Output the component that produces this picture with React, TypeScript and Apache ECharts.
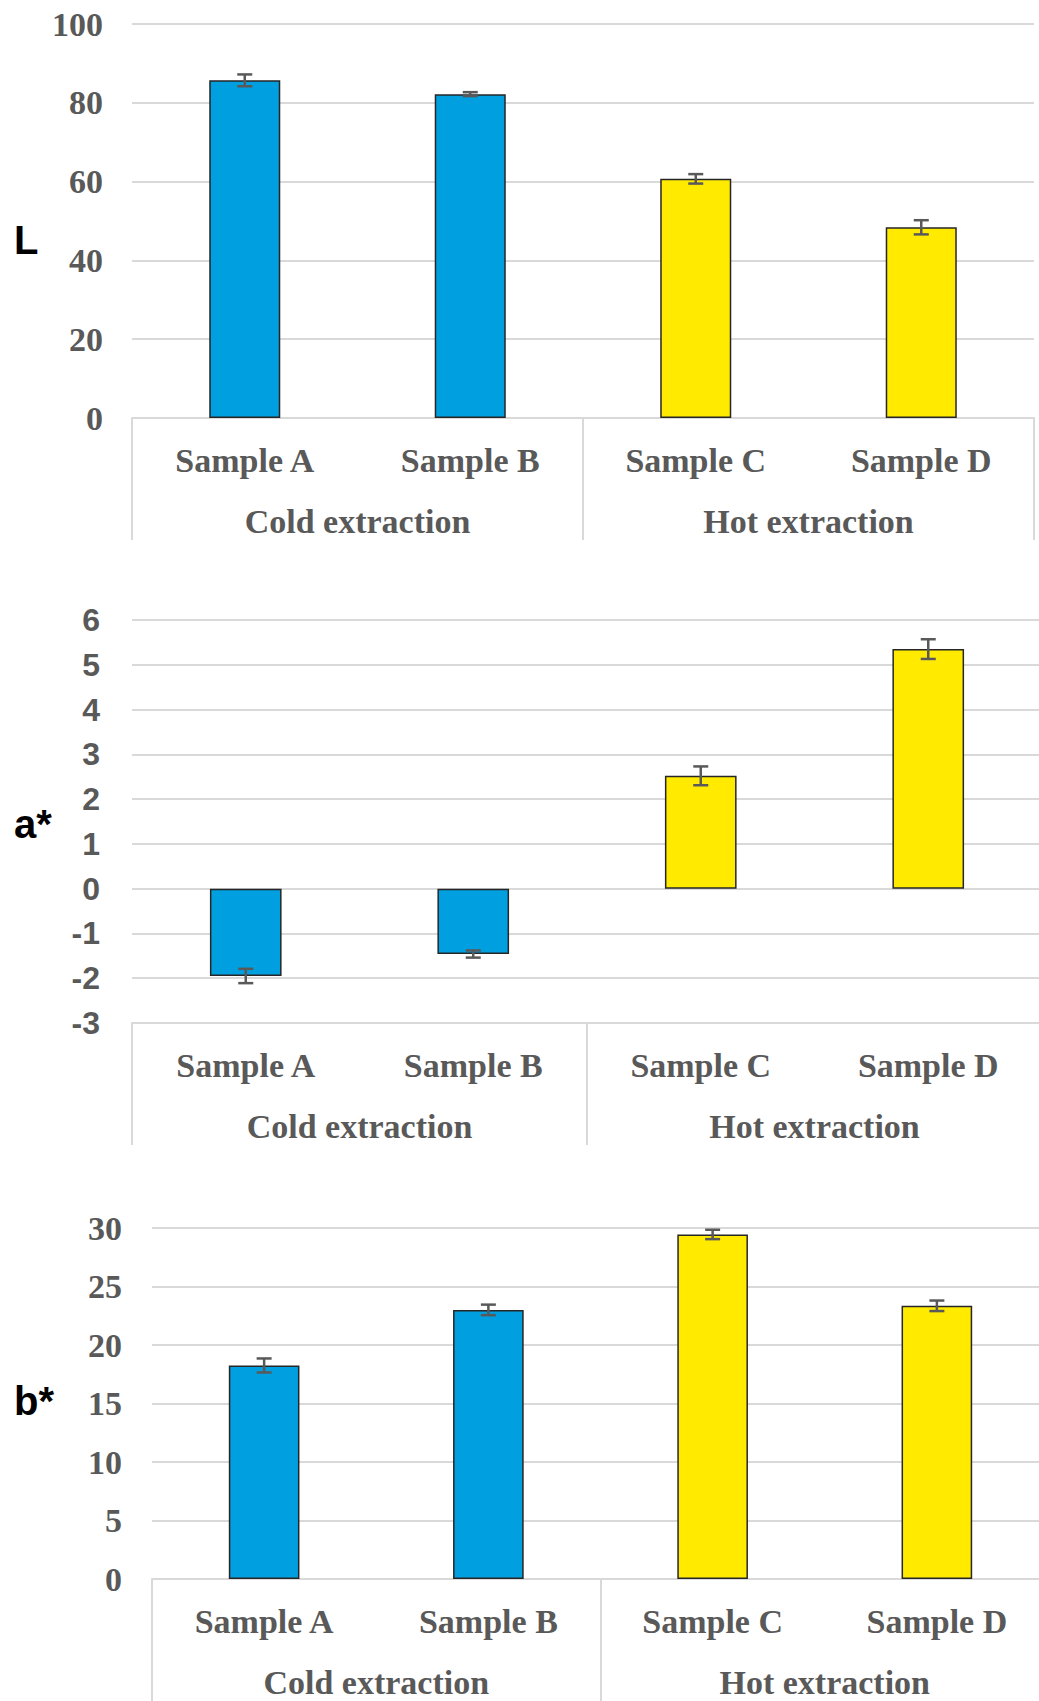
import React, { useEffect, useRef } from "react";
import * as echarts from "echarts";

// Categories and groups
const samples = ["Sample A", "Sample B", "Sample C", "Sample D"];
const groups = ["Cold extraction", "Hot extraction"];
const barColors = ["#009FDF", "#009FDF", "#FFEA00", "#FFEA00"];

// L (lightness) means and standard deviations
const lValues = [85.7, 82.2, 60.7, 48.4];
const lErrors = [1.5, 0.5, 1.2, 1.8];

// a* means and standard deviations
const aValues = [-1.95, -1.46, 2.52, 5.35];
const aErrors = [0.16, 0.08, 0.21, 0.22];

// b* means and standard deviations
const bValues = [18.25, 23.0, 29.45, 23.35];
const bErrors = [0.6, 0.45, 0.4, 0.45];

// Value-axis ranges per panel
const lRange = { min: 0, max: 100, interval: 20 };
const aRange = { min: -3, max: 6, interval: 1 };
const bRange = { min: 0, max: 30, interval: 5 };

const SERIF = "'Liberation Serif', 'Times New Roman', serif";
const SANS = "'Liberation Sans', Arial, sans-serif";
const GREY = "#595959";
const LINE = "#D9D9D9";
const LABEL_SIZE = 34;

const panels = [
  { title: "L", values: lValues, errors: lErrors, range: lRange, left: 132, top: 24, width: 902, height: 394, tickFont: SERIF, tickSize: 34, tickMargin: 29, titleY: 241 },
  { title: "a*", values: aValues, errors: aErrors, range: aRange, left: 132, top: 620, width: 910, height: 403, tickFont: SANS, tickSize: 32, tickMargin: 32, titleY: 825 },
  { title: "b*", values: bValues, errors: bErrors, range: bRange, left: 152, top: 1228, width: 897, height: 351, tickFont: SERIF, tickSize: 34, tickMargin: 30, titleY: 1402 },
];

function errorBarItem(params: any, api: any) {
  const x = api.value(0);
  const v = api.value(1);
  const e = api.value(2);
  const hi = api.coord([x, v + e]);
  const lo = api.coord([x, v - e]);
  const half = 7.5;
  const style = { stroke: GREY, lineWidth: 2.5 };
  return {
    type: "group",
    children: [
      { type: "line", shape: { x1: hi[0], y1: hi[1], x2: lo[0], y2: lo[1] }, style },
      { type: "line", shape: { x1: hi[0] - half, y1: hi[1], x2: hi[0] + half, y2: hi[1] }, style },
      { type: "line", shape: { x1: lo[0] - half, y1: lo[1], x2: lo[0] + half, y2: lo[1] }, style },
    ],
  };
}

export default function App() {
  const ref = useRef<HTMLDivElement>(null);

  useEffect(() => {
    if (!ref.current) return;
    const chart = echarts.init(ref.current, null, { renderer: "svg" });

    const grid: any[] = [];
    const xAxis: any[] = [];
    const yAxis: any[] = [];
    const series: any[] = [];
    const graphic: any[] = [];

    panels.forEach((p, i) => {
      const box = { left: p.left, top: p.top, width: p.width, height: p.height };
      grid.push({ ...box, containLabel: false });
      grid.push({ ...box, containLabel: false });

      // sample labels
      xAxis.push({
        type: "category",
        gridIndex: 2 * i,
        data: samples,
        position: "bottom",
        axisLine: { show: false, onZero: false },
        axisTick: { show: false },
        axisLabel: { color: GREY, fontFamily: SERIF, fontWeight: "bold", fontSize: LABEL_SIZE, margin: 25 },
      });
      // group labels with the bracket lines
      xAxis.push({
        type: "category",
        gridIndex: 2 * i + 1,
        data: groups,
        position: "bottom",
        axisLine: { show: true, onZero: false, lineStyle: { color: LINE, width: 2 } },
        axisTick: { show: true, length: 122, lineStyle: { color: LINE, width: 2 } },
        axisLabel: { color: GREY, fontFamily: SERIF, fontWeight: "bold", fontSize: LABEL_SIZE, margin: 86 },
      });

      yAxis.push({
        type: "value",
        gridIndex: 2 * i,
        min: p.range.min,
        max: p.range.max,
        interval: p.range.interval,
        axisLine: { show: false },
        axisTick: { show: false },
        splitLine: { show: true, lineStyle: { color: LINE, width: 2 } },
        axisLabel: { color: GREY, fontFamily: p.tickFont, fontWeight: "bold", fontSize: p.tickSize, margin: p.tickMargin },
      });
      yAxis.push({ type: "value", gridIndex: 2 * i + 1, show: false });

      series.push({
        type: "bar",
        xAxisIndex: 2 * i,
        yAxisIndex: 2 * i,
        barWidth: "31.5%",
        data: p.values.map((v, k) => ({
          value: v,
          itemStyle: { color: barColors[k], borderColor: "#262626", borderWidth: 1.5 },
        })),
        z: 2,
      });
      series.push({
        type: "custom",
        xAxisIndex: 2 * i,
        yAxisIndex: 2 * i,
        renderItem: errorBarItem,
        encode: { x: 0, y: 1 },
        data: p.values.map((v, k) => [k, v, p.errors[k]]),
        z: 3,
      });

      graphic.push({
        type: "text",
        left: 14,
        top: p.titleY - 21,
        style: { text: p.title, fill: "#000", font: `bold 40px ${SANS}` },
      });
    });

    chart.setOption({
      animation: false,
      backgroundColor: "#fff",
      grid,
      xAxis,
      yAxis,
      series,
      graphic,
    });

    return () => chart.dispose();
  }, []);

  // The drawing surface is wider than the page so the lower panels can run past the right edge.
  return (
    <div style={{ position: "absolute", left: 0, top: 0, width: 1039, height: 1701, overflow: "hidden", background: "#fff" }}>
      <div ref={ref} style={{ width: 1100, height: 1701 }} />
    </div>
  );
}
